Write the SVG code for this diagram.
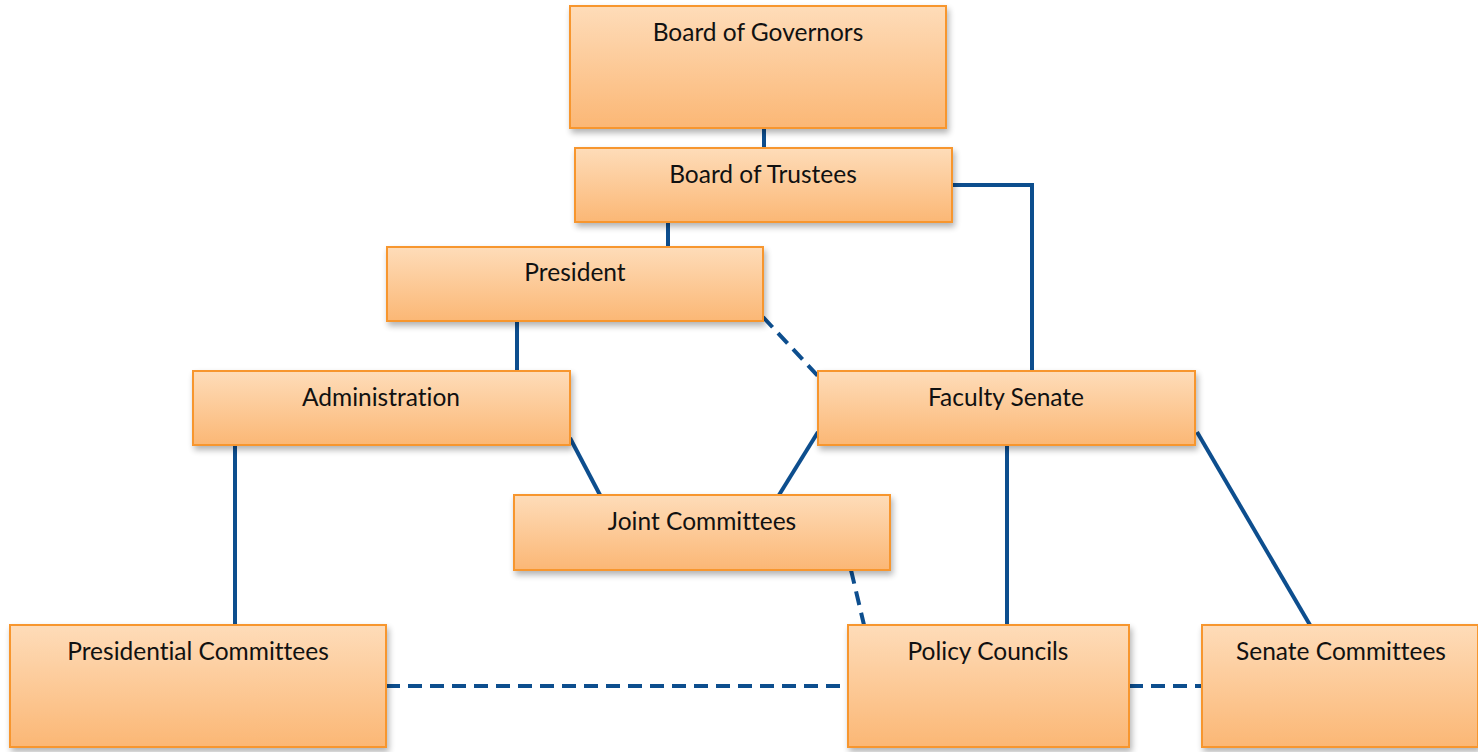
<svg xmlns="http://www.w3.org/2000/svg" width="1478" height="752" viewBox="0 0 1478 752">
<defs>
<linearGradient id="g" x1="0" y1="0" x2="0" y2="1">
<stop offset="0" stop-color="#fedcb9"/>
<stop offset="1" stop-color="#fbb775"/>
</linearGradient>
<filter id="sh" x="-5%" y="-10%" width="115%" height="130%">
<feGaussianBlur in="SourceAlpha" stdDeviation="3"/>
<feOffset dx="2" dy="4"/>
<feComponentTransfer><feFuncA type="linear" slope="0.3"/></feComponentTransfer>
<feMerge><feMergeNode/><feMergeNode in="SourceGraphic"/></feMerge>
</filter>
</defs>
<style>
.box{fill:url(#g);stroke:#f7962f;stroke-width:2;filter:url(#sh)}
.t{font-family:Lato,"Open Sans","Liberation Sans",sans-serif;font-size:24.5px;fill:#111;text-anchor:middle;font-variant-ligatures:none;font-feature-settings:"liga" 0,"dlig" 0}
.c{stroke:#0d4e8e;stroke-width:4;fill:none}
.d{stroke-dasharray:14,8}
</style>
<rect width="1478" height="752" fill="#fff"/>
<g id="connectors">
<line class="c" x1="764" y1="128" x2="764" y2="148"/>
<line class="c" x1="668" y1="222" x2="668" y2="247"/>
<polyline class="c" points="952,185 1032,185 1032,371"/>
<line class="c" x1="517" y1="321" x2="517" y2="371"/>
<line class="c d" x1="763" y1="317" x2="818" y2="376"/>
<line class="c" x1="570" y1="438" x2="600" y2="495"/>
<line class="c" x1="818" y1="432" x2="779" y2="495"/>
<line class="c" x1="235" y1="445" x2="235" y2="625"/>
<line class="c" x1="1007" y1="445" x2="1007" y2="625"/>
<line class="c" x1="1197" y1="432" x2="1310" y2="625"/>
<line class="c d" x1="851" y1="570" x2="864" y2="625"/>
<line class="c d" x1="386" y1="686" x2="848" y2="686"/>
<line class="c d" x1="1129" y1="686" x2="1202" y2="686"/>
</g>
<g id="board-of-governors"><rect class="box" x="570" y="6" width="376" height="122"/><text class="t" x="758" y="41">Board of Governors</text></g>
<g id="board-of-trustees"><rect class="box" x="575" y="148" width="377" height="74"/><text class="t" x="763" y="183">Board of Trustees</text></g>
<g id="president"><rect class="box" x="387" y="247" width="376" height="74"/><text class="t" x="575" y="281">President</text></g>
<g id="administration"><rect class="box" x="193" y="371" width="377" height="74"/><text class="t" x="381" y="406">Administration</text></g>
<g id="faculty-senate"><rect class="box" x="818" y="371" width="377" height="74"/><text class="t" x="1006" y="406">Faculty Senate</text></g>
<g id="joint-committees"><rect class="box" x="514" y="495" width="376" height="75"/><text class="t" x="702" y="530">Joint Committees</text></g>
<g id="presidential-committees"><rect class="box" x="10" y="625" width="376" height="122"/><text class="t" x="198" y="660">Presidential Committees</text></g>
<g id="policy-councils"><rect class="box" x="848" y="625" width="281" height="122"/><text class="t" x="988" y="660">Policy Councils</text></g>
<g id="senate-committees"><rect class="box" x="1202" y="625" width="276" height="122"/><text class="t" x="1341" y="660">Senate Committees</text></g>
</svg>
